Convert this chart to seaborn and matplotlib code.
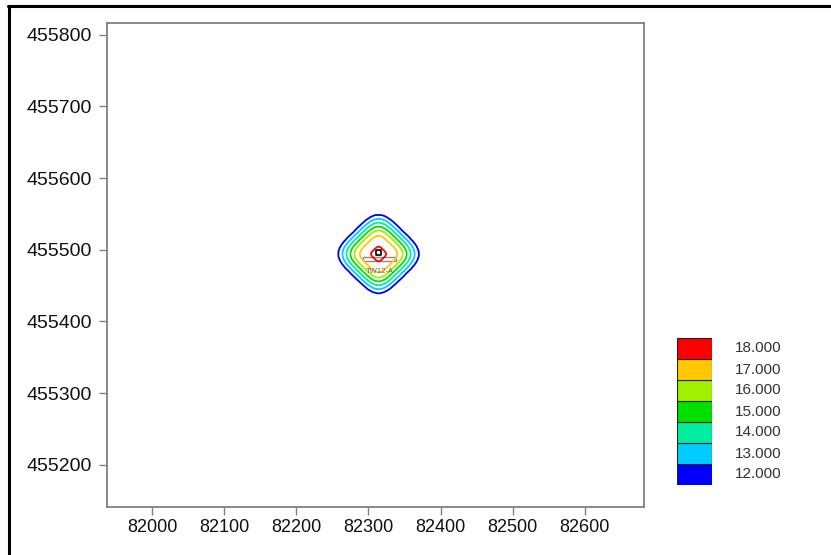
import numpy as np
import matplotlib
matplotlib.use("Agg")
import matplotlib.pyplot as plt
from matplotlib.lines import Line2D
from matplotlib.patches import Rectangle
import seaborn as sns
import pandas as pd

# ---- data ----
levels = [12, 13, 14, 15, 16, 17, 18]
level_colors = ["#0000FF", "#00CCFF", "#00EEA0", "#00E000", "#A0F000", "#FFC800", "#FF0000"]
legend_labels = ["12.000", "13.000", "14.000", "15.000", "16.000", "17.000", "18.000"]
# distance (m) from source at which each contour level lies
contour_dist = [0, 10.5, 26, 33.5, 39, 44.5, 50, 55.5, 120]
contour_vals = [18.6, 18, 17, 16, 15, 14, 13, 12, 10]
source_x = 82314
source_y = 455494
y_shape = 0.98  # vertical/horizontal extent ratio
x_ticks = [82000, 82100, 82200, 82300, 82400, 82500, 82600]
y_ticks = [455200, 455300, 455400, 455500, 455600, 455700, 455800]
x_lim = (81937.5, 82682)
y_lim = (455141, 455817)
building_x = [82293, 82338]
building_y = [455484, 455490]
building_label = "TW12-A"

sns.set_theme(style="white")
plt.rcParams['font.family'] = ['Liberation Sans', 'DejaVu Sans']

W, H = 831, 555
fig = plt.figure(figsize=(W / 100, H / 100), dpi=100)
ax = fig.add_axes([107 / W, 1 - 507 / H, (644 - 107) / W, (507 - 22.5) / H])

# field grid
gx = np.linspace(x_lim[0], x_lim[1], 600)
gy = np.linspace(y_lim[0], y_lim[1], 600)
XX, YY = np.meshgrid(gx, gy)
dx = XX - source_x
dy = (YY - source_y) / y_shape
u = (dx + dy) / np.sqrt(2)
v = (dx - dy) / np.sqrt(2)
d = (np.abs(u) ** 4 + np.abs(v) ** 4) ** 0.25 * 2 ** 0.25
Z = np.interp(d, contour_dist, contour_vals)

ax.contour(XX, YY, Z, levels=levels, colors=level_colors, linewidths=1.3)

# building outline and label
ax.add_patch(Rectangle((building_x[0], building_y[0]), building_x[1] - building_x[0],
                       building_y[1] - building_y[0], fill=False, edgecolor="#888888", lw=1))
ax.text(np.mean(building_x), building_y[0] - 14, building_label, fontsize=5.5,
        color="#666666", ha="center", va="center")

src = pd.DataFrame({"x": [source_x], "y": [source_y + 2]})
sns.scatterplot(data=src, x="x", y="y", ax=ax, marker="s", s=16,
                facecolor="none", edgecolor="black", linewidth=1.2, legend=False)

ax.set_xlim(*x_lim)
ax.set_ylim(*y_lim)
ax.set_xticks(x_ticks)
ax.set_yticks(y_ticks)
ax.set_xticklabels([str(t) for t in x_ticks])
ax.set_yticklabels([str(t) for t in y_ticks])
ax.set_xlabel("")
ax.set_ylabel("")
ax.tick_params(axis="both", direction="out", length=6, width=1, color="#808080",
               labelcolor="#111111", bottom=True, left=True)
ax.tick_params(axis="y", pad=5, labelsize=14)
ax.tick_params(axis="x", pad=3, labelsize=13)
for s in ax.spines.values():
    s.set_visible(True)
    s.set_color("#808080")
    s.set_linewidth(1.3)

# legend boxes
lax = fig.add_axes([677 / W, 1 - 485 / H, (712 - 677) / W, (485 - 338) / H])
lax.bar([0] * len(levels), [1] * len(levels), bottom=np.arange(len(levels)),
        color=level_colors, edgecolor="#222222", linewidth=0.8, width=1, align="edge")
lax.set_xlim(0, 1)
lax.set_ylim(0, len(levels))
lax.axis("off")
for i, lab in enumerate(legend_labels):
    fig.text(735 / W, 1 - (485 - (i + 0.5) * 21) / H, lab, fontsize=11,
             color="#333333", ha="left", va="center")

# outer frame lines
fig.add_artist(Line2D([8 / W, 1], [1 - 6 / H, 1 - 6 / H], color="black", lw=2.2,
                      transform=fig.transFigure))
fig.add_artist(Line2D([9 / W, 9 / W], [1 - 6 / H, 0], color="black", lw=2.2,
                      transform=fig.transFigure))

fig.savefig("out.png", dpi=100)
